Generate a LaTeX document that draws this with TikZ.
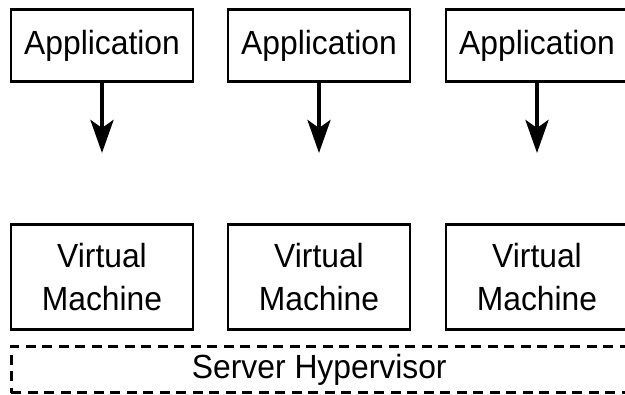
\documentclass[tikz,border=0pt]{standalone}
\usepackage{fontspec}
\setmainfont[FakeStretch=0.95]{Liberation Sans}
\usetikzlibrary{arrows.meta}
\begin{document}
\begin{tikzpicture}[x=1pt,y=-1pt,
  box/.style={draw=black,line width=2.7pt,fill=white,inner sep=0pt,font=\fontsize{33.5}{43}\selectfont,align=center},
  appbox/.style={box,minimum width=182pt,minimum height=72pt},
  vmbox/.style={box,minimum width=182pt,minimum height=105pt},
  hyper/.style={draw=black,line width=2.8pt,dash pattern=on 10pt off 6.5pt,inner sep=0pt,minimum width=616pt,minimum height=46.5pt,font=\fontsize{33.5}{43}\selectfont},
  flow/.style={line width=4.3pt,-{Stealth[length=33pt,width=23pt,inset=8pt]}}]
\useasboundingbox (0,0) rectangle (625,395);
\fill[white] (0,0) rectangle (625,395);
\begin{scope}
\clip (0,0) rectangle (625,395);
\node[appbox] (app1) at (102,45.5) {Application};
\node[appbox] (app2) at (319,45.5) {Application};
\node[appbox] (app3) at (537,45.5) {Application};
\coordinate (t1) at (102,153);
\coordinate (t2) at (319,153);
\coordinate (t3) at (537,153);
\draw[flow] (app1) -- (t1);
\draw[flow] (app2) -- (t2);
\draw[flow] (app3) -- (t3);
\node[vmbox] (vm1) at (102,277) {Virtual\\Machine};
\node[vmbox] (vm2) at (319,277) {Virtual\\Machine};
\node[vmbox] (vm3) at (537,277) {Virtual\\Machine};
\node[hyper] (hv) at (319.3,369.5) {Server Hypervisor};
\end{scope}
\end{tikzpicture}
\end{document}
